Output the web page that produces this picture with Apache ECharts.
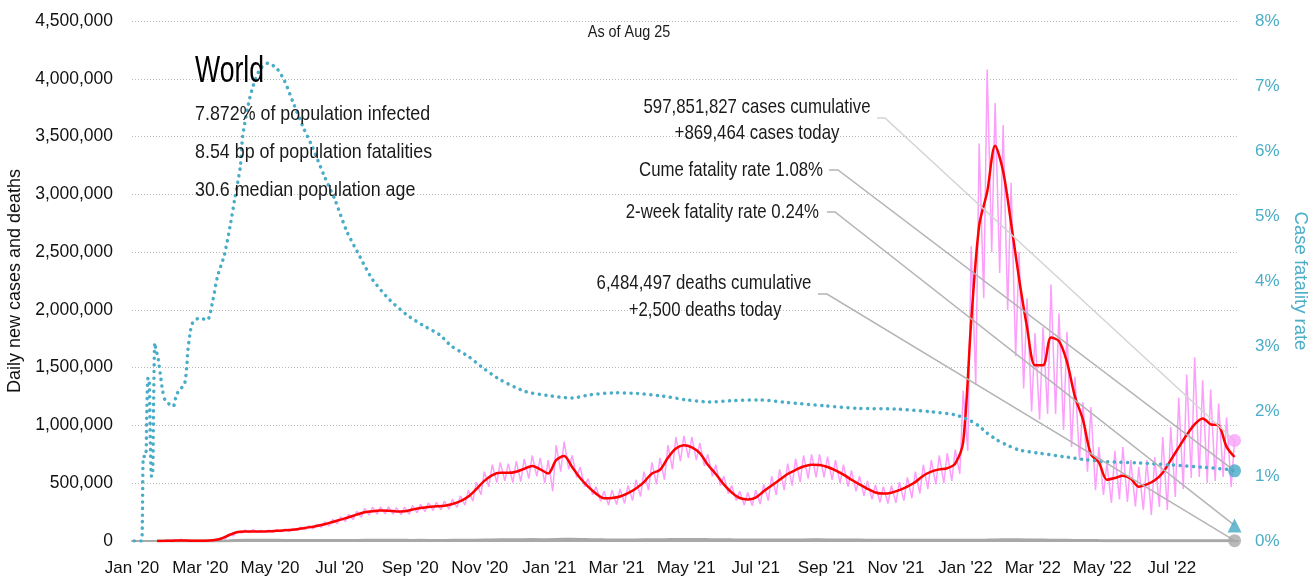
<!DOCTYPE html>
<html>
<head>
<meta charset="utf-8">
<title>World - daily new cases and deaths</title>
<script src="https://cdn.jsdelivr.net/npm/echarts@6/dist/echarts.min.js"></script>
<style>
html, body { margin: 0; padding: 0; background: #fff; }
#chart { width: 1314px; height: 582px; }
</style>
</head>
<body>
<div id="chart"></div>
<script>
var FONT = "'Liberation Sans', Arial, sans-serif";

// axis range and tick labels
var axisStart = '2020-01-01';
var axisEnd = '2022-08-28';
var monthNames = ['Jan', 'Feb', 'Mar', 'Apr', 'May', 'Jun', 'Jul', 'Aug', 'Sep', 'Oct', 'Nov', 'Dec'];

// weekly samples, first one on 2020-01-23, one every 7 days up to 2022-08-25
var weeklyStart = '2020-01-23';
// 7-day average of new cases (thousands)
var casesAvgK = [
    0.6, 1.3, 3, 4.5, 3, 1.5, 2.5, 7, 20, 50,
    75, 82, 83, 82, 84, 88, 92, 98, 108, 118,
    130, 145, 165, 185, 205, 228, 248, 258, 263, 262,
    255, 258, 272, 285, 295, 300, 305, 320, 345, 385,
    450, 520, 570, 590, 590, 600, 625, 650, 620, 585,
    700, 735, 640, 545, 470, 410, 370, 372, 385, 415,
    455, 510, 585, 615, 720, 800, 828, 810, 760, 660,
    580, 490, 420, 372, 360, 375, 430, 480, 530, 580,
    615, 645, 660, 658, 640, 612, 575, 530, 490, 452,
    420, 410, 418, 440, 470, 510, 565, 600, 620, 630,
    670, 860, 1900, 2730, 3020, 3420, 3200, 2750, 2270, 1850,
    1520, 1520, 1760, 1730, 1550, 1250, 1050, 750, 680, 530,
    545, 565, 540, 470, 490, 525, 590, 700, 810, 918,
    1010, 1060, 1010, 1000, 815, 727
];
// daily new cases: weekly high (same day as the average) and following low (thousands)
var casesHighK = [
    0.8, 2, 3.5, 15, 2.5, 2, 3.5, 9, 28, 62,
    85, 95, 100, 92, 93, 98, 102, 108, 120, 132,
    145, 165, 188, 210, 232, 258, 282, 292, 295, 296,
    288, 292, 308, 318, 330, 335, 345, 362, 390, 440,
    510, 600, 660, 680, 670, 690, 710, 740, 720, 700,
    830, 860, 740, 640, 540, 470, 430, 440, 450, 480,
    530, 600, 680, 720, 830, 900, 910, 900, 850, 750,
    660, 560, 480, 430, 420, 440, 490, 560, 620, 670,
    710, 740, 750, 750, 730, 700, 660, 610, 560, 520,
    485, 470, 480, 510, 550, 600, 660, 700, 740, 760,
    790, 1300, 2550, 3440, 4080, 3790, 3600, 3100, 2500, 2100,
    1800, 1850, 2220, 1970, 1810, 1420, 1200, 1160, 813, 675,
    780, 813, 700, 640, 700, 727, 900, 987, 1240, 1440,
    1590, 1390, 1310, 1190, 1070, 869
];
var casesLowK = [
    0.5, 1.5, 2.8, 2, 1.2, 1.2, 2, 6, 18, 45,
    68, 72, 75, 75, 76, 80, 84, 90, 98, 106,
    118, 130, 150, 168, 185, 205, 225, 232, 235, 232,
    228, 232, 245, 255, 265, 270, 275, 290, 310, 345,
    400, 470, 505, 520, 505, 515, 540, 560, 500, 430,
    600, 620, 550, 470, 400, 345, 310, 315, 325, 350,
    385, 440, 490, 530, 620, 690, 720, 700, 650, 560,
    480, 410, 350, 310, 305, 320, 350, 400, 440, 480,
    510, 540, 550, 550, 530, 500, 470, 430, 390, 360,
    335, 325, 330, 350, 370, 410, 450, 490, 500, 520,
    580, 780, 1350, 2100, 2500, 2320, 2000, 1600, 1320, 1120,
    1050, 1100, 1100, 960, 813, 700, 600, 440, 398, 329,
    360, 337, 300, 268, 225, 294, 268, 381, 450, 545,
    554, 502, 520, 554, 467
];
// 7-day average of new deaths
var deathsAvg = [
    20, 30, 70, 110, 120, 60, 70, 300, 800, 2300,
    4800, 6800, 7300, 6600, 6000, 5500, 5000, 4700, 4400, 4300,
    4500, 4600, 4700, 5000, 5200, 5400, 5800, 5900, 6000, 5800,
    5800, 5600, 5400, 5500, 5300, 5200, 5300, 5500, 5800, 6300,
    7000, 8500, 9500, 10500, 10800, 11000, 11500, 12000, 11500, 11600,
    13500, 14300, 14200, 14000, 12500, 11500, 10000, 8900, 8800, 8900,
    9500, 10200, 10800, 11500, 12200, 13200, 13700, 13600, 13000, 12300,
    11800, 11000, 10000, 9200, 8400, 8000, 7800, 8000, 8300, 8900,
    9300, 9700, 10000, 9900, 9500, 9000, 8700, 8300, 7900, 7400,
    7000, 7000, 7100, 7200, 7300, 7200, 7100, 7000, 6900, 7000,
    6600, 6300, 6400, 7000, 8000, 9500, 10500, 11000, 10000, 9000,
    8200, 7600, 7000, 6600, 6000, 5200, 4500, 3900, 3500, 3200,
    3000, 2600, 2400, 2300, 2100, 1900, 1800, 1900, 2100, 2300,
    2300, 2500, 2400, 2500, 2300, 2500
];

// case fatality rate (%)
var cfrDates = [
    '2020-01-03', '2020-01-09', '2020-01-10', '2020-01-11', '2020-01-13', '2020-01-14', '2020-01-15',
    '2020-01-16', '2020-01-17', '2020-01-18', '2020-01-19', '2020-01-20', '2020-01-21', '2020-01-22',
    '2020-01-24', '2020-01-26', '2020-01-28', '2020-01-30', '2020-02-06', '2020-02-09', '2020-02-13',
    '2020-02-16', '2020-02-18', '2020-02-19', '2020-02-21', '2020-02-23', '2020-02-29', '2020-03-07',
    '2020-03-12', '2020-03-16', '2020-03-22', '2020-03-27', '2020-03-31', '2020-04-05', '2020-04-07',
    '2020-04-12', '2020-04-16', '2020-04-22', '2020-04-29', '2020-05-07', '2020-05-14', '2020-05-21',
    '2020-05-30', '2020-06-07', '2020-06-18', '2020-06-27', '2020-07-07', '2020-07-19', '2020-07-30',
    '2020-08-14', '2020-08-29', '2020-09-12', '2020-09-27', '2020-10-07', '2020-10-22', '2020-11-04',
    '2020-11-19', '2020-12-11', '2020-12-30', '2021-01-21', '2021-02-06', '2021-02-28', '2021-03-19',
    '2021-04-10', '2021-05-02', '2021-05-21', '2021-06-12', '2021-07-04', '2021-07-29', '2021-08-30',
    '2021-09-30', '2021-10-31', '2021-12-01', '2021-12-23', '2022-01-04', '2022-01-12', '2022-01-20',
    '2022-01-29', '2022-02-06', '2022-02-17', '2022-03-07', '2022-03-27', '2022-04-17', '2022-05-05',
    '2022-06-03', '2022-07-01', '2022-07-31', '2022-08-20', '2022-08-25'
];
var cfrValues = [
    0, 0, 0.2, 1.3, 1.3, 2.0, 2.5,
    2.5, 1.6, 1.0, 1.0, 2.2, 3.05, 2.95,
    2.8, 2.55, 2.3, 2.17, 2.07, 2.25, 2.35,
    2.4, 2.68, 2.94, 3.2, 3.35, 3.43, 3.4,
    3.71, 4.07, 4.4, 4.84, 5.25, 5.76, 6.22,
    6.71, 6.99, 7.25, 7.35, 7.27, 7.07, 6.76,
    6.37, 6.07, 5.6, 5.25, 4.78, 4.37, 4.02,
    3.71, 3.48, 3.32, 3.17, 3.0, 2.84, 2.66,
    2.48, 2.3, 2.24, 2.2, 2.25, 2.28, 2.27,
    2.23, 2.17, 2.14, 2.16, 2.17, 2.13, 2.08,
    2.04, 2.03, 1.99, 1.94, 1.86, 1.78, 1.66,
    1.55, 1.48, 1.4, 1.35, 1.3, 1.25, 1.22,
    1.2, 1.17, 1.13, 1.1, 1.08
];

// latest day
var lastDate = '2022-08-25';
var casesToday = 869464;
var deathsToday = 2500;
var cumeCfr = 1.08;
var twoWeekCfr = 0.24;

var infoLines = ['7.872% of population infected', '8.54 bp of population fatalities', '30.6 median population age'];

// ---------------------------------------------------------------
var start = Date.UTC(2020, 0, 1);
function dayIndex(s) {
    var p = s.split('-');
    return Math.round((Date.UTC(+p[0], +p[1] - 1, +p[2]) - start) / 864e5);
}
function commas(v) {
    return String(v).replace(/\B(?=(\d{3})+(?!\d))/g, ',');
}

var categories = [];
for (var i = dayIndex(axisStart); i <= dayIndex(axisEnd); i++) {
    categories.push(new Date(start + i * 864e5).toISOString().slice(0, 10));
}

var w0 = dayIndex(weeklyStart);
var avgData = [], dailyData = [], deathData = [];
for (var k = 0; k < casesAvgK.length; k++) {
    avgData.push([w0 + 7 * k, casesAvgK[k] * 1000]);
    deathData.push([w0 + 7 * k, deathsAvg[k]]);
    dailyData.push([w0 + 7 * k, casesHighK[k] * 1000]);
    if (k < casesLowK.length) dailyData.push([w0 + 7 * k + 4, casesLowK[k] * 1000]);
}
var cfrData = cfrDates.map(function (d, j) { return [dayIndex(d), cfrValues[j]]; });
var li = dayIndex(lastDate);

var chart = echarts.init(document.getElementById('chart'));

var option = {
    animation: false,
    textStyle: { fontFamily: FONT },
    grid: { left: 132, right: 76, top: 21, bottom: 41, outerBoundsMode: 'none', containLabel: false },
    xAxis: {
        type: 'category',
        data: categories,
        boundaryGap: false,
        axisLine: { show: true, lineStyle: { color: '#aaaaaa', width: 2 } },
        axisTick: { show: false },
        splitLine: { show: false },
        axisLabel: {
            color: '#111',
            fontSize: 17,
            fontFamily: FONT,
            margin: 19,
            interval: function (index, value) {
                var p = value.split('-');
                return p[2] === '01' && (+p[1]) % 2 === 1;
            },
            formatter: function (value) {
                var p = value.split('-');
                return monthNames[+p[1] - 1] + " '" + p[0].slice(2);
            }
        }
    },
    yAxis: [{
        type: 'value',
        min: 0,
        max: 4500000,
        interval: 500000,
        name: 'Daily new cases and deaths',
        nameLocation: 'middle',
        nameGap: 101,
        nameTextStyle: { color: '#111', fontSize: 18, fontFamily: FONT },
        axisLine: { show: false },
        axisTick: { show: false },
        axisLabel: {
            color: '#111', fontSize: 17.5, fontFamily: FONT, margin: 19,
            formatter: function (v) { return commas(v); }
        },
        splitLine: { lineStyle: { color: '#bbbbbb', type: [1, 2], width: 1 } }
    }, {
        type: 'value',
        min: 0,
        max: 8,
        interval: 1,
        name: 'Case fatality rate',
        nameLocation: 'middle',
        nameGap: 47,
        nameRotate: -90,
        nameTextStyle: { color: '#4badc6', fontSize: 18.5, fontFamily: FONT },
        axisLine: { show: false },
        axisTick: { show: false },
        axisLabel: { color: '#4badc6', fontSize: 17, fontFamily: FONT, margin: 17, formatter: '{value}%' },
        splitLine: { show: false }
    }],
    series: [{
        name: 'Daily new cases',
        type: 'line',
        data: dailyData,
        showSymbol: false,
        lineStyle: { color: '#fb9ffb', width: 1.5 },
        z: 2
    }, {
        name: 'Daily deaths',
        type: 'line',
        data: deathData,
        showSymbol: false,
        lineStyle: { color: '#a8a8a8', width: 3 },
        z: 3
    }, {
        name: '7-day average',
        type: 'line',
        data: avgData,
        showSymbol: false,
        smooth: 0.3,
        lineStyle: { color: '#ff0000', width: 2.5 },
        z: 4
    }, {
        name: 'Case fatality rate',
        type: 'line',
        yAxisIndex: 1,
        data: cfrData,
        showSymbol: false,
        smooth: 0.25,
        lineStyle: { color: '#4aadc7', width: 3.5, type: [0.1, 6.5], cap: 'round' },
        z: 5
    }, {
        type: 'scatter',
        data: [[li, casesToday]],
        symbol: 'circle', symbolSize: 13,
        itemStyle: { color: '#f9a3f9' },
        z: 10
    }, {
        type: 'scatter',
        data: [[li, deathsToday]],
        symbol: 'circle', symbolSize: 13,
        itemStyle: { color: '#a8a8a8' },
        z: 10
    }, {
        type: 'scatter',
        yAxisIndex: 1,
        data: [[li, cumeCfr]],
        symbol: 'circle', symbolSize: 13,
        itemStyle: { color: '#45a9c5' },
        z: 10
    }, {
        type: 'scatter',
        yAxisIndex: 1,
        data: [[li, twoWeekCfr]],
        symbol: 'triangle', symbolSize: 14,
        itemStyle: { color: '#45a9c5' },
        z: 10
    }]
};
chart.setOption(option);

// condensed-looking text: draw at full height, squeeze horizontally
function txt(text, x, y, size, align, squeeze, color) {
    return {
        type: 'text', z: 20,
        x: x, y: y, scaleX: squeeze,
        style: {
            text: text, x: 0, y: 0,
            font: size + 'px ' + FONT,
            fill: color || '#1a1a1a',
            align: align, verticalAlign: 'middle',
            textAlign: align, textVerticalAlign: 'middle'
        }
    };
}
function leader(x0, y0, x1, pt, color) {
    return {
        type: 'polyline', z: 8,
        shape: { points: [[x0, y0], [x1, y0], pt] },
        style: { stroke: color, lineWidth: 1.5, fill: null }
    };
}

var pCases = chart.convertToPixel({ xAxisIndex: 0, yAxisIndex: 0 }, [li, casesToday]);
var pDeaths = chart.convertToPixel({ xAxisIndex: 0, yAxisIndex: 0 }, [li, deathsToday]);
var pCume = chart.convertToPixel({ xAxisIndex: 0, yAxisIndex: 1 }, [li, cumeCfr]);
var pTwo = chart.convertToPixel({ xAxisIndex: 0, yAxisIndex: 1 }, [li, twoWeekCfr]);

var graphics = [
    txt('World', 195, 72, 37, 'left', 0.72, '#000'),
    txt(infoLines[0], 195, 114, 21, 'left', 0.85),
    txt(infoLines[1], 195, 152, 21, 'left', 0.85),
    txt(infoLines[2], 195, 190, 21, 'left', 0.85),
    txt('As of Aug 25', 629, 33, 16, 'center', 0.9),
    txt('597,851,827 cases cumulative', 757, 107, 21, 'center', 0.8),
    txt('+' + commas(casesToday) + ' cases today', 757, 133, 21, 'center', 0.8),
    txt('Cume fatality rate ' + cumeCfr.toFixed(2) + '%', 823, 170, 21, 'right', 0.8),
    txt('2-week fatality rate ' + twoWeekCfr.toFixed(2) + '%', 819, 212, 21, 'right', 0.8),
    txt('6,484,497 deaths cumulative', 704, 283, 21, 'center', 0.8),
    txt('+' + commas(deathsToday) + ' deaths today', 705, 310, 21, 'center', 0.8),
    leader(877, 118, 885, pCases, '#d4d4d4'),
    leader(829, 170, 838, pCume, '#b4b4b4'),
    leader(827, 212, 835, pTwo, '#b4b4b4'),
    leader(818, 294, 827, pDeaths, '#b4b4b4')
];
chart.setOption({ graphic: graphics });
</script>
</body>
</html>
